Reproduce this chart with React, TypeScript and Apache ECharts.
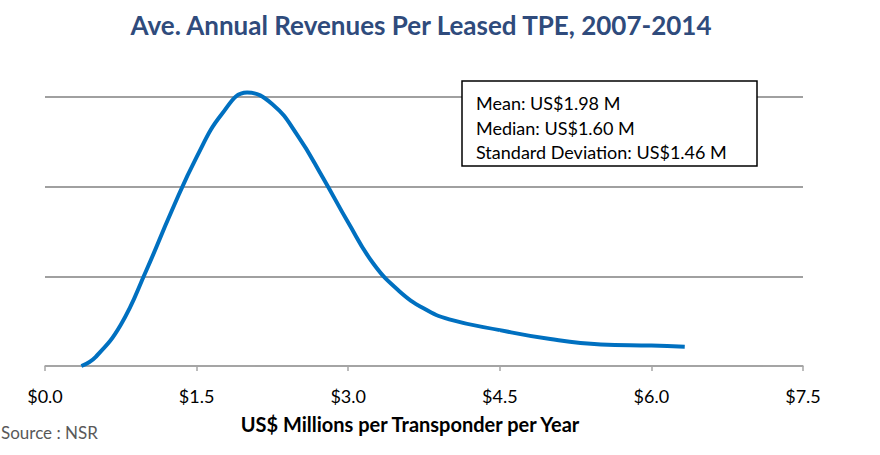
import React, { useEffect, useRef } from "react";
import * as echarts from "echarts";

const titleText = "Ave. Annual Revenues Per Leased TPE, 2007-2014";
const xAxisTitle = "US$ Millions per Transponder per Year";
const sourceText = "Source : NSR";
const statsLines = ["Mean: US$1.98 M", "Median: US$1.60 M", "Standard Deviation: US$1.46 M"];

// density curve points: [US$ millions, relative frequency]
const curveX = [0.36, 0.5, 0.75, 1.0, 1.25, 1.5, 1.75, 2.0, 2.25, 2.5, 2.75, 3.0, 3.25, 3.5, 3.75, 4.0, 4.5, 5.0, 5.5, 6.0, 6.33];
const curveY = [0.0, 0.1, 0.46, 1.06, 1.72, 2.33, 2.81, 3.05, 2.92, 2.57, 2.1, 1.6, 1.14, 0.84, 0.64, 0.52, 0.4, 0.3, 0.24, 0.228, 0.215];

const xMin = 0;
const xMax = 7.5;
const xStep = 1.5;
const yMin = 0;
const yMax = 3;
const yStep = 1;

const FONT = "Lato, 'Open Sans', sans-serif";

export default function App() {
  const ref = useRef<HTMLDivElement>(null);
  useEffect(() => {
    document.body.style.margin = "0";
    if (!ref.current) return;
    const chart = echarts.init(ref.current, undefined, { renderer: "svg" });
    chart.setOption({
      animation: false,
      backgroundColor: "#ffffff",
      textStyle: { fontFamily: FONT },
      grid: { left: 45, right: 77, top: 97, bottom: 89, containLabel: false },
      xAxis: {
        type: "value",
        min: xMin,
        max: xMax,
        interval: xStep,
        axisLine: { show: true, lineStyle: { color: "#a6a6a6", width: 1.5 } },
        axisTick: { show: true, length: 5, lineStyle: { color: "#a6a6a6", width: 1.5 } },
        splitLine: { show: false },
        axisLabel: {
          color: "#000",
          fontSize: 18,
          fontFamily: FONT,
          margin: 21,
          formatter: (v: number) => "$" + v.toFixed(1),
        },
      },
      yAxis: {
        type: "value",
        min: yMin,
        max: yMax,
        interval: yStep,
        axisLine: { show: false },
        axisTick: { show: false },
        axisLabel: { show: false },
        splitLine: { show: true, lineStyle: { color: "#808080", width: 1.5 } },
      },
      graphic: [
        {
          type: "text",
          x: 421,
          y: 25,
          style: {
            text: titleText,
            fill: "#2f4b7c",
            font: "bold 26px " + FONT,
            textAlign: "center",
            textVerticalAlign: "middle",
          },
        },
        {
          type: "text",
          x: 410,
          y: 424,
          style: {
            text: xAxisTitle,
            fill: "#000",
            font: "bold 20px " + FONT,
            textAlign: "center",
            textVerticalAlign: "middle",
          },
        },
        {
          type: "text",
          x: 1,
          y: 432,
          style: {
            text: sourceText,
            fill: "#595959",
            font: "17px " + FONT,
            textAlign: "left",
            textVerticalAlign: "middle",
          },
        },
        {
          type: "rect",
          shape: { x: 462, y: 81, width: 295, height: 85 },
          style: { fill: "#ffffff", stroke: "#000", lineWidth: 1.5 },
          z: 10,
        },
        ...statsLines.map((t, i) => ({
          type: "text",
          x: 476,
          y: 103 + i * 24.5,
          z: 11,
          style: {
            text: t,
            fill: "#000",
            font: "18px " + FONT,
            textAlign: "left",
            textVerticalAlign: "middle",
          },
        })),
      ],
      series: [
        {
          type: "line",
          data: curveX.map((x, i) => [x, curveY[i]]),
          smooth: 0.45,
          clip: false,
          showSymbol: false,
          symbol: "none",
          lineStyle: { color: "#0070c0", width: 4 },
          z: 5,
        },
      ],
    });
    return () => chart.dispose();
  }, []);
  return <div ref={ref} style={{ width: 880, height: 455 }} />;
}
